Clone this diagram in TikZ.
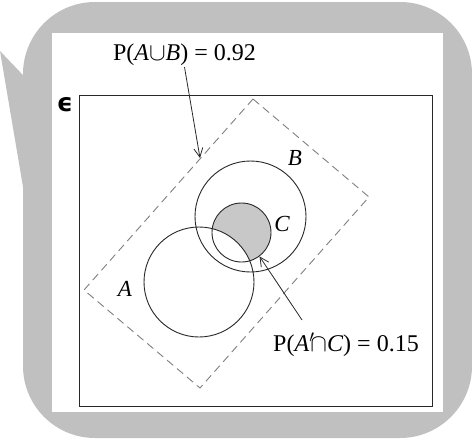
\documentclass[tikz,border=0pt]{standalone}
\usepackage{fontspec}
\setmainfont{Liberation Serif}
\newfontfamily\symfont{DejaVu Sans}
\usetikzlibrary{arrows.meta}
\definecolor{bubblegray}{RGB}{192,192,192}
\definecolor{fillgray}{RGB}{200,200,200}
\definecolor{dashgray}{RGB}{128,128,128}
\definecolor{inkline}{RGB}{40,40,40}
\begin{document}
\begin{tikzpicture}[x=1pt,y=-1pt,
  setcirc/.style={circle, draw=inkline, line width=0.9pt, inner sep=0pt},
  lbl/.style={font=\fontsize{23}{23}\selectfont\itshape, inner sep=0pt},
  eqn/.style={font=\fontsize{24}{24}\selectfont, inner sep=1pt},
  pointer/.style={draw=inkline, line width=0.8pt, -{Straight Barb[length=9pt,width=9pt]}},
  frame/.style={draw=inkline, line width=1pt, inner sep=0pt},
]
\useasboundingbox (0,0) rectangle (472,439);
% speech bubble
\fill[bubblegray] (0,51) -- (40,93) -- (33,246) -- cycle;
\fill[bubblegray, rounded corners=72pt] (23,2) rectangle (472,438);
\fill[white] (52,33) rectangle (443,412);
% universal set frame
\node[frame, minimum width=353pt, minimum height=311pt] (U) at (255.5,250.5) {};
\node[inner sep=0pt] (eps) at (65,104.5) {\fontsize{25}{25}\selectfont\symfont\bfseries ϵ};
% dashed union region
\draw[draw=dashgray, line width=0.9pt, dash pattern=on 8pt off 5pt]
  (253,99) -- (369,197) -- (200,388) -- (84,290) -- cycle;
% shaded C minus A
\begin{scope}
  \clip (241.5,232.5) circle (29.5);
  \fill[fillgray] (241.5,232.5) circle (29.5);
  \fill[white] (199,282) circle (55);
\end{scope}
% circles
\node[setcirc, minimum size=110pt] (A) at (199,282) {};
\node[setcirc, minimum size=111pt] (B) at (250.5,216.5) {};
\node[setcirc, minimum size=59pt] (C) at (241.5,232.5) {};
% labels
\node[lbl] (la) at (125,289) {A};
\node[lbl] (lb) at (295,158) {B};
\node[lbl] (lc) at (282,224) {C};
% equations
\node[eqn] (t1) at (184.5,55) {P(\textit{A}$\cup$\textit{B}) = 0.92};
\node[eqn] (t2) at (346,345) {P(\textit{A}$'\!\cap$\textit{C}) = 0.15};
% pointers
\coordinate (p1) at (200,158);
\coordinate (s2) at (302,320);
\draw[pointer] (t1.south) -- (p1);
\draw[pointer] (s2) -- (C.-53);
\end{tikzpicture}
\end{document}
